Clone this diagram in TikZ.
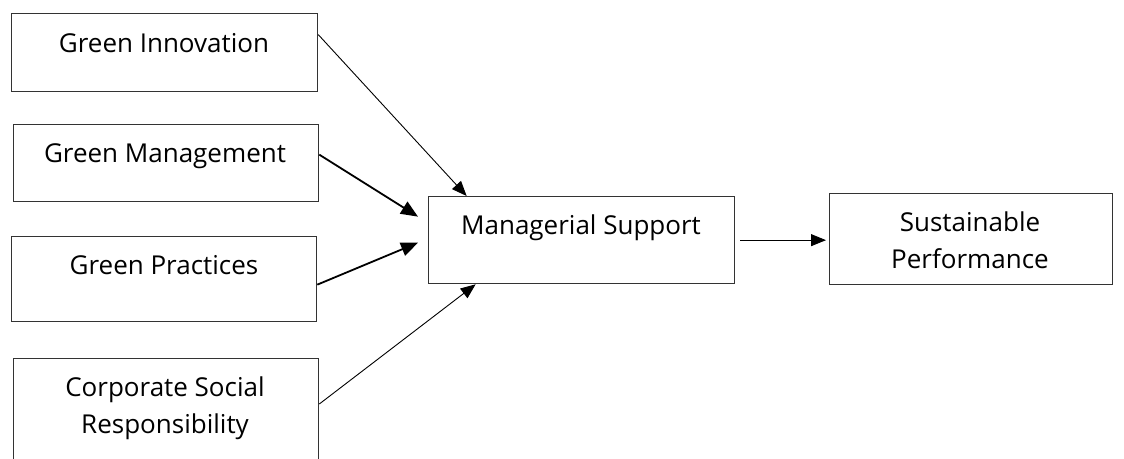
\documentclass[tikz,border=0pt]{standalone}
\usepackage{fontspec}
\setmainfont{Open Sans}
\usetikzlibrary{arrows.meta}
\begin{document}
\begin{tikzpicture}[x=1pt,y=-1pt,
  box/.style={draw=black!80,line width=1.3pt,rectangle,inner sep=0pt,anchor=north west},
  lbl/.style={font=\fontsize{26}{37}\selectfont,anchor=base,inner sep=0pt,align=center},
  thin arrow/.style={line width=0.9pt,-{Triangle[length=15pt,width=12pt]}},
  thick arrow/.style={line width=1.8pt,-{Triangle[length=17pt,width=14pt]}}]
\useasboundingbox[fill=white] (0,0) rectangle (1124,458);
\node[box,minimum width=306pt,minimum height=78pt] (gi) at (11,13) {};
\node[box,minimum width=305pt,minimum height=77pt] (gm) at (13,124) {};
\node[box,minimum width=305pt,minimum height=85pt] (gp) at (11,236) {};
\node[box,minimum width=305pt,minimum height=120pt] (csr) at (13,358) {};
\node[box,minimum width=306pt,minimum height=87pt] (ms) at (428,196) {};
\node[box,minimum width=283pt,minimum height=91pt] (sp) at (829,193) {};
\node[lbl] (gi-t) at (164,52) {Green Innovation};
\node[lbl] (gm-t) at (165,162) {Green Management};
\node[lbl] (gp-t) at (164,274) {Green Practices};
\node[lbl] (csr-t) at (165,433) {Corporate Social\\Responsibility};
\node[lbl] (ms-t) at (581,234) {Managerial Support};
\node[lbl] (sp-t) at (970,268) {Sustainable\\Performance};
\draw[thin arrow] ([yshift=18pt]gi.east) -- ([xshift=-115pt]ms.north);
\draw[thick arrow] ([yshift=8.5pt]gm.east) -- ([xshift=-10pt,yshift=23.5pt]ms.west);
\draw[thick arrow] ([yshift=-5.5pt]gp.east) -- ([xshift=-10pt,yshift=-2.5pt]ms.west);
\draw[thin arrow] ([yshift=7pt]csr.east |- 0,411) -- ([xshift=-106pt]ms.south);
\draw[thin arrow] ([xshift=5pt]ms.east) -- ([xshift=-3pt]ms.east -| sp.west);
\end{tikzpicture}
\end{document}
